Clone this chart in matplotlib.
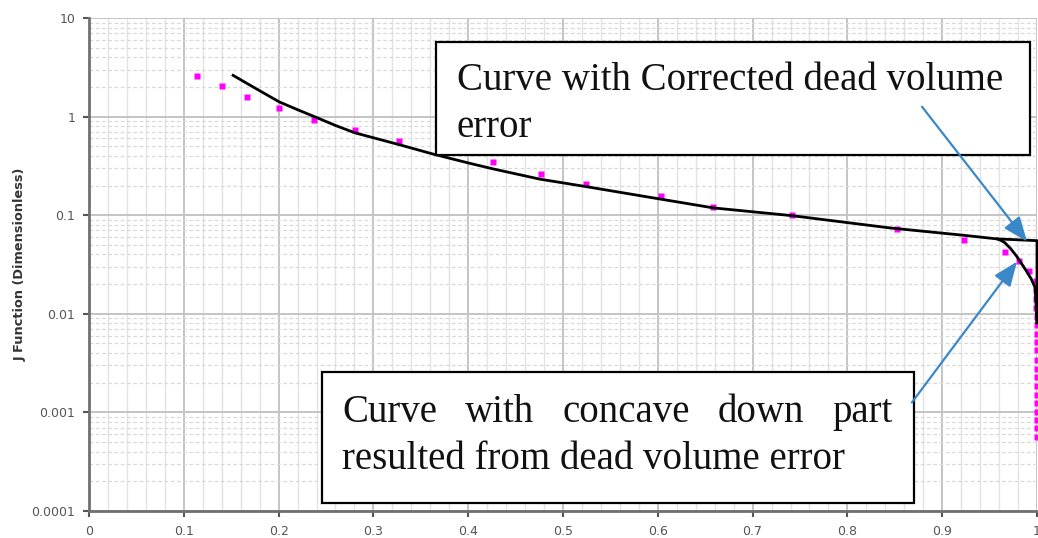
import matplotlib
matplotlib.use("Agg")
import matplotlib.pyplot as plt
from matplotlib.patches import Rectangle
from matplotlib.ticker import MultipleLocator, LogLocator, NullFormatter, FixedLocator

# Measured J-function points (saturation vs. J)
sat_pts = [0.1142, 0.140, 0.167, 0.2007, 0.2377, 0.2806, 0.3273, 0.4262, 0.4765,
           0.5243, 0.603, 0.6586, 0.7412, 0.8526, 0.923, 0.9662, 0.981, 0.9919, 0.9986,
           0.9992, 0.9993, 0.9994, 0.9995, 0.9995, 0.9996, 0.9996, 0.9996, 0.9997,
           0.9997, 0.9997, 0.9998, 0.9998, 0.9998, 0.9999, 0.9999, 0.9999, 1.0]
j_pts = [2.61, 2.03, 1.57, 1.21, 0.93, 0.73, 0.57, 0.344, 0.26,
         0.2077, 0.158, 0.120, 0.101, 0.0726, 0.0557, 0.042, 0.0347, 0.027, 0.0214,
         0.0176, 0.01426, 0.01156, 0.00938, 0.00776, 0.0063, 0.00513, 0.00427, 0.00343,
         0.00278, 0.00231, 0.00187, 0.00151, 0.00126, 0.00102, 0.00083, 0.00069, 0.00056]

# Curve with corrected dead volume
corr_sat = [0.152, 0.175, 0.2007, 0.22, 0.2377, 0.26, 0.2806, 0.30, 0.327, 0.3629,
            0.40, 0.4262, 0.4757, 0.5243, 0.586, 0.6586, 0.7412, 0.8449, 0.923,
            0.9578, 1.0, 1.0]
corr_j = [2.62, 1.95, 1.41, 1.175, 1.0, 0.813, 0.684, 0.61, 0.52, 0.417,
          0.339, 0.295, 0.232, 0.195, 0.155, 0.1186, 0.099, 0.0743, 0.0625,
          0.0575, 0.0552, 0.0081]

# Curve with concave-down part (dead volume error)
conc_sat = [0.9578, 0.962, 0.966, 0.972, 0.9786, 0.984, 0.989, 0.994, 0.998, 1.0]
conc_j = [0.0575, 0.0555, 0.0527, 0.046, 0.0383, 0.032, 0.027, 0.0225, 0.01845, 0.0081]

x_ticks = [0, 0.1, 0.2, 0.3, 0.4, 0.5, 0.6, 0.7, 0.8, 0.9, 1.0]
x_labels = ["0", "0.1", "0.2", "0.3", "0.4", "0.5", "0.6", "0.7", "0.8", "0.9", "1"]
y_ticks = [1e-4, 1e-3, 1e-2, 1e-1, 1, 10]
y_labels = ["0.0001", "0.001", "0.01", "0.1", "1", "10"]

note_top = ["Curve with Corrected dead volume", "error"]
note_bottom_1 = ["Curve", "with", "concave", "down", "part"]
note_bottom_2 = "resulted from dead volume error"

# arrow tips / tails (data coordinates)
arrow1_tail = (0.8787, 1.26)
arrow1_tip = (0.9895, 0.054)
arrow2_tail = (0.868, 0.00126)
arrow2_tip = (0.979, 0.0339)

W, H = 1038, 538
fig = plt.figure(figsize=(W / 100, H / 100), dpi=100)
ax = fig.add_axes([89 / W, 1 - 511 / H, (1037 - 89) / W, (511 - 18) / H])


def fpx(x, y):
    return (x / W, 1 - y / H)


ax.set_yscale("log")
ax.set_xlim(0, 1)
ax.set_ylim(1e-4, 10)

ax.xaxis.set_major_locator(FixedLocator(x_ticks))
ax.set_xticklabels(x_labels)
ax.xaxis.set_minor_locator(MultipleLocator(0.02))
ax.yaxis.set_major_locator(FixedLocator(y_ticks))
ax.set_yticklabels(y_labels)
ax.yaxis.set_minor_locator(LogLocator(base=10, subs=range(2, 10), numticks=20))
ax.yaxis.set_minor_formatter(NullFormatter())

ax.set_axisbelow(True)
ax.xaxis.grid(True, which="major", color="#c4c4c4", lw=1.4)
ax.yaxis.grid(True, which="major", color="#c4c4c4", lw=1.4)
ax.xaxis.grid(True, which="minor", color="#e3e3e3", lw=1.0)
ax.yaxis.grid(True, which="minor", color="#d9d9d9", lw=0.9, ls=(0, (3, 2)))

for s in ["top", "right"]:
    ax.spines[s].set_visible(False)
for s in ["left", "bottom"]:
    ax.spines[s].set_color("#707070")
    ax.spines[s].set_linewidth(2)

ax.tick_params(which="major", direction="out", length=4, width=1.5, color="#555555",
               labelsize=9, labelcolor="#555555", pad=6)
ax.tick_params(which="minor", length=0)

ax.set_ylabel("J Function (Dimensionless)", fontsize=9.3, fontweight="bold",
              color="#333333", labelpad=3)

ax.plot(sat_pts, j_pts, ls="none", marker="s", ms=5, color="#ff00ff",
        mec="none", zorder=3, clip_on=False)
ax.plot(corr_sat, corr_j, color="black", lw=2.0, zorder=4, clip_on=False,
        solid_joinstyle="round")
ax.plot(conc_sat, conc_j, color="black", lw=2.0, zorder=4, clip_on=False,
        solid_joinstyle="round")

serif = "Liberation Serif"
fs = 28

# upper note box
x0, y0 = fpx(436, 155)
x1, y1 = fpx(1030, 42)
ax.add_patch(Rectangle((x0, y0), x1 - x0, y1 - y0, transform=fig.transFigure,
                       facecolor="white", edgecolor="black", lw=1.6, zorder=5,
                       clip_on=False))
ax.text(*fpx(457, 90), note_top[0], transform=fig.transFigure, fontsize=fs,
        family=serif, va="baseline", ha="left", zorder=6, color="#111111")
ax.text(*fpx(457, 137), note_top[1], transform=fig.transFigure, fontsize=fs,
        family=serif, va="baseline", ha="left", zorder=6, color="#111111")

# lower note box
x0, y0 = fpx(322, 503)
x1, y1 = fpx(914, 372)
ax.add_patch(Rectangle((x0, y0), x1 - x0, y1 - y0, transform=fig.transFigure,
                       facecolor="white", edgecolor="black", lw=1.6, zorder=5,
                       clip_on=False))

renderer = fig.canvas.get_renderer()
left_px, right_px = 342, 893
words = []
for w in note_bottom_1:
    t = ax.text(0, 0, w, transform=fig.transFigure, fontsize=fs, family=serif,
                va="baseline", ha="left", zorder=6, color="#111111")
    words.append(t)
widths = [t.get_window_extent(renderer).width for t in words]
gap = (right_px - left_px - sum(widths)) / (len(words) - 1)
xpos = left_px
for t, wd in zip(words, widths):
    t.set_position(fpx(xpos, 422))
    xpos += wd + gap
ax.text(*fpx(left_px, 469), note_bottom_2, transform=fig.transFigure, fontsize=fs,
        family=serif, va="baseline", ha="left", zorder=6, color="#111111")

blue = "#3b88c9"
for tail, tip in [(arrow1_tail, arrow1_tip), (arrow2_tail, arrow2_tip)]:
    ax.annotate("", xy=tip, xytext=tail, xycoords="data", textcoords="data",
                arrowprops=dict(arrowstyle="-|>,head_length=0.75,head_width=0.3",
                                mutation_scale=20, color=blue, lw=1.6,
                                shrinkA=0, shrinkB=0),
                zorder=7, annotation_clip=False)

fig.savefig("out.png", dpi=100)
